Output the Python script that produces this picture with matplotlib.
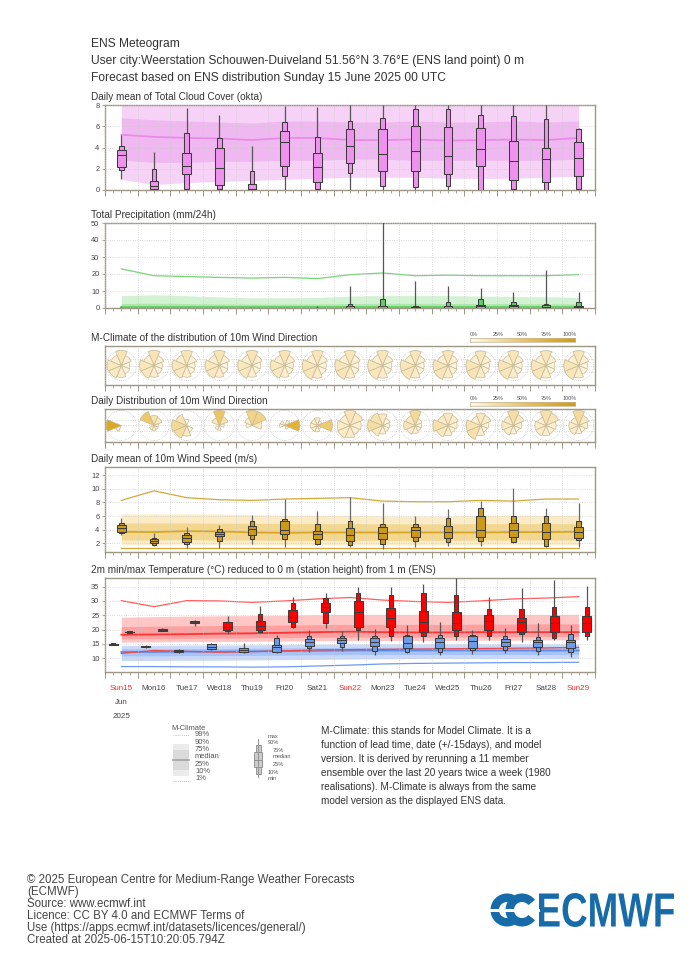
import numpy as np
import matplotlib
matplotlib.use('Agg')
import matplotlib.pyplot as plt
from matplotlib.patches import Rectangle, Wedge, Circle, PathPatch
from matplotlib.colors import LinearSegmentedColormap
from matplotlib.textpath import TextPath
from matplotlib.font_manager import FontProperties
from matplotlib.transforms import Affine2D, blended_transform_factory

plt.rcParams['font.family'] = ['Liberation Sans', 'DejaVu Sans']

# ---------------- data ----------------
day_labels = ['Sun15', 'Mon16', 'Tue17', 'Wed18', 'Thu19', 'Fri20', 'Sat21', 'Sun22',
              'Mon23', 'Tue24', 'Wed25', 'Thu26', 'Fri27', 'Sat28', 'Sun29']
sundays = ['Sun15', 'Sun22', 'Sun29']
days = np.arange(len(day_labels))

# Total cloud cover (okta) - ENS daily boxes
cloud_min = [1.0, 0, 0, 0, 0, 0, 0, 0, 0, 0, 0, 0, 0, 0, 0]
cloud_p10 = [1.9, 0.0, 0.1, 0.1, 0.0, 1.3, 0.1, 1.6, 0.4, 0.3, 0.4, 0.0, 0.1, 0.0, 0.1]
cloud_p25 = [2.15, 0.06, 1.5, 0.47, 0.0, 2.3, 0.73, 2.57, 1.8, 1.8, 1.55, 2.25, 0.95, 0.8, 1.35]
cloud_med = [3.3, 0.38, 2.25, 2.05, 0.1, 4.55, 2.15, 4.15, 3.4, 3.65, 3.2, 3.9, 2.7, 2.9, 3.05]
cloud_p75 = [3.8, 0.88, 3.5, 4.0, 0.55, 5.55, 3.45, 5.7, 5.75, 6.0, 5.9, 5.85, 4.65, 4.0, 4.5]
cloud_p90 = [4.1, 2.0, 5.4, 4.9, 1.8, 6.4, 5.0, 6.5, 6.75, 7.6, 7.6, 7.1, 7.0, 6.65, 5.75]
cloud_max = [5.2, 3.6, 7.7, 7.05, 4.15, 7.9, 7.8, 8.0, 8.0, 8.0, 8.0, 8.0, 8.0, 8.0, 5.8]
# cloud M-climate
clc_p10 = [1.0, 0.5, 0.7, 0.8, 0.9, 1.0, 1.1, 1.2, 1.2, 1.2, 1.1, 1.1, 1.1, 1.2, 1.3]
clc_p25 = [2.8, 2.6, 2.6, 2.7, 2.7, 2.8, 2.8, 2.9, 2.9, 2.8, 2.8, 2.8, 2.8, 2.8, 2.9]
clc_med = [5.2, 5.0, 4.9, 4.85, 4.7, 4.9, 4.9, 4.7, 4.7, 4.75, 4.65, 4.7, 4.75, 4.7, 4.9]
clc_p75 = [6.8, 6.6, 6.5, 6.4, 6.3, 6.5, 6.5, 6.4, 6.4, 6.5, 6.4, 6.4, 6.5, 6.4, 6.5]
clc_p90 = [8.0, 8.0, 8.0, 8.0, 8.0, 8.0, 8.0, 8.0, 8.0, 8.0, 8.0, 8.0, 8.0, 8.0, 8.0]

# Total precipitation (mm/24h)
pr_min = [0, 0, 0, 0, 0, 0, 0, 0, 0, 0, 0, 0, 0, 0, 0]
pr_p10 = [0, 0, 0, 0, 0, 0, 0, 0, 0, 0, 0, 0, 0, 0, 0]
pr_p25 = [0, 0, 0, 0, 0, 0, 0, 0, 0, 0, 0, 0, 0, 0, 0]
pr_med = [0, 0, 0, 0, 0, 0, 0, 0, 0, 0, 0, 1.0, 1.0, 0.6, 0.6]
pr_p75 = [0, 0, 0, 0, 0, 0, 0, 1.0, 1.4, 0.8, 1.0, 2.0, 2.0, 1.6, 1.4]
pr_p90 = [0.1, 0, 0, 0.05, 0, 0, 0.2, 2.5, 5.3, 1.4, 3.5, 5.3, 3.5, 2.5, 3.5]
pr_max = [0.3, 0.2, 0, 0.2, 0, 0, 1.4, 12.7, 52.0, 15.7, 12.7, 11.8, 9.2, 22.2, 9.2]
# precipitation M-climate
prc_p99 = [23.0, 19.0, 18.5, 18.0, 17.6, 18.0, 17.3, 19.6, 20.6, 19.0, 19.3, 19.0, 19.0, 19.0, 19.6]
prc_p90 = [7.3, 7.8, 7.2, 6.5, 6.0, 6.0, 6.2, 7.0, 7.3, 7.3, 7.3, 7.0, 6.8, 6.6, 6.3]
prc_p75 = [2.6, 2.8, 2.6, 2.4, 2.3, 2.3, 2.4, 2.6, 2.7, 2.7, 2.7, 2.6, 2.6, 2.5, 2.5]
prc_med = [0.5, 0.5, 0.5, 0.5, 0.5, 0.5, 0.5, 0.5, 0.5, 0.5, 0.5, 0.5, 0.5, 0.5, 0.5]
prc_p10 = [0, 0, 0, 0, 0, 0, 0, 0, 0, 0, 0, 0, 0, 0, 0]
prc_p25 = [0, 0, 0, 0, 0, 0, 0, 0, 0, 0, 0, 0, 0, 0, 0]

# 10m wind direction frequency (%) -- M-climate, by sector
mc_N = [18, 18, 18, 18, 18, 18, 17, 17, 17, 17, 17, 16.5, 17, 17, 17]
mc_NE = [9, 9, 9, 9.5, 9.5, 9.5, 9, 9, 9, 9, 9, 9, 9, 9, 9]
mc_E = [5.5, 5.5, 5.5, 5.5, 6, 6, 6, 6, 6, 6, 6, 6, 6, 6, 6]
mc_SE = [6.5, 6.5, 6.5, 6.5, 6.5, 7, 7, 7, 7, 7, 7, 7, 7, 7, 7]
mc_S = [11.5, 11, 11, 11, 11, 11, 12, 12, 12, 12, 12, 12, 12, 12, 12]
mc_SW = [14.5, 15, 15, 15, 15, 15, 17, 17, 17, 17.5, 17.5, 18, 17.5, 17.5, 17.5]
mc_W = [16, 16.5, 16.5, 16, 16, 16, 17, 17, 16.5, 17, 17, 17, 17, 16.5, 17]
mc_NW = [10, 10, 10.5, 10.5, 10, 10, 10, 10, 10, 10, 10, 10, 10, 10, 10]
# daily ENS distribution
dd_N = [0, 20, 5, 50, 35, 0, 12, 18, 15, 30, 15, 15, 25, 22, 28]
dd_NE = [0, 15, 0, 20, 35, 10, 5, 15, 7, 7, 12, 12, 15, 18, 15]
dd_E = [0, 4, 0, 5, 15, 70, 45, 10, 5, 5, 8, 6, 8, 10, 10]
dd_SE = [0, 4, 6, 0, 0, 5, 3, 8, 5, 5, 6, 5, 5, 8, 6]
dd_S = [0, 6, 15, 5, 0, 0, 8, 12, 8, 8, 10, 10, 8, 10, 8]
dd_SW = [15, 5, 25, 5, 0, 0, 8, 14, 15, 12, 15, 22, 12, 12, 12]
dd_W = [85, 0, 30, 0, 5, 8, 10, 13, 25, 18, 22, 20, 15, 12, 12]
dd_NW = [0, 46, 19, 15, 10, 7, 9, 10, 20, 15, 12, 10, 12, 8, 9]
sector_compass = [0, 45, 90, 135, 180, 225, 270, 315]

# 10m wind speed (m/s)
ws_min = [3.2, 1.65, 1.3, 1.3, 1.85, 1.4, 1.75, 1.5, 1.15, 1.5, 1.6, 1.65, 2.0, 1.5, 1.5]
ws_p10 = [3.45, 1.75, 1.9, 2.35, 2.6, 2.6, 1.85, 1.75, 1.85, 2.35, 2.15, 2.4, 2.15, 1.65, 2.5]
ws_p25 = [3.7, 2.0, 2.15, 3.05, 3.2, 3.35, 2.65, 2.35, 2.6, 3.0, 2.75, 2.9, 3.0, 2.6, 2.75]
ws_med = [4.2, 2.35, 2.8, 3.35, 4.1, 3.95, 3.3, 3.2, 3.45, 3.95, 3.7, 3.95, 3.95, 3.7, 3.7]
ws_p75 = [4.7, 2.6, 3.2, 3.7, 4.55, 5.25, 3.8, 4.2, 4.45, 4.45, 4.6, 6.0, 5.05, 5.05, 4.45]
ws_p90 = [5.0, 2.8, 3.45, 4.05, 5.3, 5.5, 4.85, 5.3, 4.85, 4.9, 5.65, 7.25, 6.0, 6.05, 5.3]
ws_max = [5.65, 3.45, 4.45, 4.7, 6.15, 8.45, 6.8, 8.75, 7.85, 6.0, 7.0, 8.25, 10.05, 7.25, 7.95]
# wind speed M-climate
wsc_p99 = [8.3, 9.7, 8.7, 8.4, 8.3, 8.5, 8.6, 8.7, 8.2, 8.1, 8.1, 8.3, 8.2, 8.5, 8.5]
wsc_p90 = [6.3, 6.3, 6.3, 6.3, 6.2, 6.1, 6.1, 6.1, 6.0, 6.0, 6.0, 6.1, 6.1, 6.1, 6.1]
wsc_p75 = [5.0, 5.0, 5.0, 4.95, 4.95, 4.9, 4.9, 4.9, 4.85, 4.85, 4.85, 4.9, 4.9, 4.9, 4.9]
wsc_med = [3.7, 3.65, 3.8, 3.75, 3.6, 3.55, 3.6, 3.6, 3.6, 3.6, 3.6, 3.6, 3.65, 3.65, 3.7]
wsc_p25 = [2.5, 2.5, 2.55, 2.5, 2.5, 2.45, 2.45, 2.45, 2.45, 2.45, 2.45, 2.5, 2.5, 2.5, 2.5]
wsc_p10 = [1.85, 1.85, 1.9, 1.85, 1.85, 1.8, 1.8, 1.8, 1.8, 1.8, 1.8, 1.85, 1.85, 1.85, 1.85]
wsc_p01 = [1.3, 1.3, 1.3, 1.3, 1.3, 1.3, 1.3, 1.3, 1.3, 1.3, 1.3, 1.3, 1.3, 1.3, 1.3]

# 2m minimum temperature (night, -6h) and maximum temperature (day, +6h)
tn_min = [14.45, 13.7, 12.0, 12.9, 11.7, 12.0, 12.3, 12.7, 11.2, 12.0, 11.2, 11.5, 12.0, 11.2, 10.3]
tn_p10 = [14.55, 13.8, 12.1, 13.1, 12.1, 12.1, 13.5, 13.8, 12.7, 12.3, 12.3, 12.9, 12.9, 12.7, 12.3]
tn_p25 = [14.7, 13.9, 12.3, 13.2, 12.2, 12.3, 14.3, 15.2, 14.1, 13.5, 13.5, 13.5, 14.1, 13.8, 13.7]
tn_med = [14.9, 14.1, 12.6, 13.8, 12.9, 13.8, 15.8, 16.4, 15.8, 15.2, 15.5, 16.0, 15.8, 15.8, 15.5]
tn_p75 = [15.1, 14.3, 12.9, 14.8, 13.4, 14.7, 16.7, 17.0, 17.2, 17.6, 17.2, 17.6, 16.6, 16.4, 16.4]
tn_p90 = [15.2, 14.4, 13.0, 14.9, 13.5, 17.2, 17.6, 17.8, 17.8, 18.1, 18.1, 18.1, 17.8, 17.3, 18.5]
tn_max = [15.3, 14.5, 13.1, 15.2, 15.2, 18.1, 19.7, 19.5, 20.1, 21.6, 22.8, 19.9, 20.5, 22.2, 21.6]

tx_min = [18.8, 19.4, 21.4, 18.5, 18.7, 20.5, 20.7, 16.4, 16.0, 15.5, 16.4, 16.4, 15.6, 16.4, 16.4]
tx_p10 = [18.9, 19.5, 22.2, 19.5, 19.3, 21.0, 22.4, 19.7, 17.8, 17.6, 17.8, 17.8, 18.4, 17.2, 17.8]
tx_p25 = [19.0, 19.65, 22.4, 19.7, 19.9, 22.6, 26.3, 21.0, 21.0, 19.3, 19.9, 19.9, 19.1, 19.3, 19.0]
tx_med = [19.15, 19.9, 22.7, 21.0, 21.4, 24.5, 28.0, 26.0, 24.0, 22.8, 22.2, 23.0, 22.8, 22.2, 22.2]
tx_p75 = [19.3, 20.15, 23.0, 22.6, 23.0, 26.9, 29.2, 30.1, 27.4, 26.6, 26.3, 25.1, 24.0, 24.8, 24.8]
tx_p90 = [19.4, 20.3, 23.1, 22.7, 25.3, 29.4, 30.9, 32.7, 32.1, 32.7, 32.1, 27.2, 27.2, 27.8, 28.0]
tx_max = [19.5, 20.4, 23.2, 24.8, 28.4, 31.3, 32.7, 35.0, 34.8, 35.9, 37.9, 31.2, 34.4, 37.3, 35.2]

# temperature M-climate (max temperature: red, min temperature: blue)
txc_p99 = [30.1, 28.0, 30.1, 30.0, 29.5, 30.0, 30.7, 31.2, 30.3, 29.8, 29.5, 30.0, 30.7, 31.0, 31.5]
txc_p90 = [24.3, 24.5, 24.7, 24.8, 24.9, 25.0, 25.2, 25.3, 25.3, 25.3, 25.3, 25.3, 25.3, 25.3, 25.3]
txc_p75 = [21.0, 21.2, 21.3, 21.4, 21.5, 21.6, 21.7, 21.8, 21.8, 21.8, 21.8, 21.9, 21.9, 22.0, 22.0]
txc_med = [18.2, 18.3, 18.4, 18.6, 18.7, 18.9, 19.1, 19.3, 19.1, 19.0, 19.0, 19.1, 19.1, 19.1, 19.1]
txc_p25 = [16.8, 16.8, 16.9, 17.0, 17.1, 17.2, 17.3, 17.4, 17.4, 17.4, 17.4, 17.5, 17.5, 17.6, 17.6]
txc_p10 = [15.6, 15.7, 15.8, 15.8, 15.9, 16.0, 16.1, 16.2, 16.2, 16.2, 16.2, 16.3, 16.3, 16.4, 16.4]
txc_p01 = [11.7, 12.7, 12.4, 12.1, 12.3, 12.6, 12.9, 13.0, 13.1, 13.2, 13.3, 13.4, 13.5, 13.6, 13.8]
tnc_p90 = [14.5, 14.5, 14.6, 14.6, 14.7, 14.8, 14.9, 15.0, 15.0, 15.0, 15.0, 15.0, 15.0, 15.0, 15.0]
tnc_p75 = [13.3, 13.3, 13.4, 13.4, 13.5, 13.6, 13.7, 13.8, 13.8, 13.8, 13.8, 13.8, 13.8, 13.8, 13.8]
tnc_med = [12.2, 12.2, 12.3, 12.3, 12.4, 12.5, 12.6, 12.7, 12.7, 12.7, 12.7, 12.7, 12.7, 12.7, 12.7]
tnc_p25 = [10.8, 10.8, 10.9, 10.9, 11.0, 11.1, 11.2, 11.3, 11.3, 11.3, 11.3, 11.3, 11.3, 11.3, 11.3]
tnc_p10 = [9.2, 9.2, 9.3, 9.3, 9.4, 9.5, 9.6, 9.7, 9.8, 9.9, 9.9, 9.9, 9.9, 9.9, 9.9]
tnc_p01 = [7.1, 7.1, 7.0, 7.0, 6.9, 7.0, 7.3, 7.6, 8.0, 8.2, 8.3, 8.4, 8.5, 8.5, 8.6]

# ---------------- figure ----------------
W, H = 700, 966
fig = plt.figure(figsize=(W / 100, H / 100), dpi=100)
fig.patch.set_facecolor('white')

ov = fig.add_axes([0, 0, 1, 1])
ov.set_xlim(0, W)
ov.set_ylim(H, 0)
ov.axis('off')
ov.patch.set_alpha(0)

TXT = '#333333'
SPINE = '#9e9787'
GRID = '#c8c8c8'
X0, X1 = 105, 595


def fax(y0, y1, x0=X0, x1=X1):
    return fig.add_axes([x0 / W, 1 - y1 / H, (x1 - x0) / W, (y1 - y0) / H])


def style(ax, ylim, yticks=None):
    ax.set_xlim(-0.5, 14.5)
    ax.set_ylim(*ylim)
    ax.set_xticks(np.arange(-0.5, 14.6, 1.0))
    ax.set_xticks(np.arange(-0.25, 14.5, 0.25), minor=True)
    ax.tick_params(axis='x', which='major', length=4.3, width=0.7, color=SPINE,
                   labelbottom=False)
    ax.tick_params(axis='x', which='minor', length=1.9, width=0.6, color=SPINE)
    if yticks is not None:
        ax.set_yticks(yticks)
        ax.set_yticklabels([str(v) for v in yticks])
        ax.tick_params(axis='y', length=2.5, width=0.6, color=SPINE, labelsize=5.4,
                       labelcolor='#444444', pad=1.5)
    else:
        ax.set_yticks([])
    for s in ax.spines.values():
        s.set_color(SPINE)
        s.set_linewidth(1.0)
    ax.grid(True, which='major', ls=(0, (1, 2)), lw=0.55, color=GRID)
    ax.set_axisbelow(False)


def title(ax_top, text):
    ov.text(91, ax_top - 3, text, fontsize=7.2, color=TXT, ha='left', va='bottom')


def mclim(ax, xs, p10, p25, med, p75, p90, c_light, c_dark, c_med):
    ax.fill_between(xs, p10, p90, color=c_light, lw=0, zorder=1)
    ax.fill_between(xs, p25, p75, color=c_dark, lw=0, zorder=1.1)
    ax.plot(xs, med, color=c_med, lw=1.3, zorder=1.2)


def boxes(ax, xs, mn, p10, p25, med, p75, p90, mx, fc, ec='#3c3c3c', wl='#555555',
          ww=0.27, wn=0.14):
    for x, a, b, c, d, e, f, g in zip(xs, mn, p10, p25, med, p75, p90, mx):
        ax.plot([x, x], [a, g], color=wl, lw=0.9, zorder=3, solid_capstyle='butt')
        ax.add_patch(Rectangle((x - wn / 2, b), wn, f - b, fc=fc, ec=ec, lw=0.75, zorder=4))
        ax.add_patch(Rectangle((x - ww / 2, c), ww, e - c, fc=fc, ec=ec, lw=0.75, zorder=5))
        ax.plot([x - ww / 2, x + ww / 2], [d, d], color=ec, lw=0.75, zorder=6)


# header
for yy, line in zip([44, 61, 78],
                    ['ENS Meteogram',
                     'User city:Weerstation Schouwen-Duiveland 51.56°N 3.76°E (ENS land point) 0 m',
                     'Forecast based on ENS distribution Sunday 15 June 2025 00 UTC']):
    ov.text(91, yy, line, fontsize=8.65, color=TXT, va='center')

# ---- cloud cover ----
axc = fax(105, 190)
style(axc, (0, 8), [0, 2, 4, 6, 8])
mclim(axc, days, clc_p10, clc_p25, clc_med, clc_p75, clc_p90, '#f7d2f7', '#f0b8f0', '#e88be8')
boxes(axc, days, cloud_min, cloud_p10, cloud_p25, cloud_med, cloud_p75, cloud_p90, cloud_max,
      fc='#ee92ee')
title(105, 'Daily mean of Total Cloud Cover (okta)')

# ---- precipitation ----
axp = fax(223, 308)
style(axp, (0, 50), [0, 10, 20, 30, 40, 50])
mclim(axp, days, prc_p10, prc_p25, prc_med, prc_p75, prc_p90, '#d3f2d3', '#aee7ae', '#5fcf5f')
axp.plot(days, prc_p99, color='#74d674', lw=0.9, zorder=1.2)
boxes(axp, days, pr_min, pr_p10, pr_p25, pr_med, pr_p75, pr_p90, pr_max, fc='#66cc66')
title(223, 'Total Precipitation (mm/24h)')

# ---- wind direction roses ----
cmap = LinearSegmentedColormap.from_list(
    'wd', [(0.0, '#fffbf2'), (0.2, '#f7e2b0'), (0.5, '#ecc561'), (0.75, '#e0ad30'),
           (1.0, '#d49b0c')])
R = 0.46


def rose_panel(ax, freqs):
    for i in days:
        fr = np.array([f[i] for f in freqs], float)
        fmax = fr.max()
        ax.add_patch(Circle((i, 0), R, fill=False, ls=(0, (1, 1.5)), lw=0.5, ec='#bdbdbd',
                            zorder=1))
        for comp, f in zip(sector_compass, fr):
            if f <= 0:
                continue
            r = R * np.sqrt(f / fmax)
            ax.add_patch(Wedge((i, 0), r, 90 - comp - 22.5, 90 - comp + 22.5,
                               fc=cmap(f / 100.0), ec='#c9ba93', lw=0.5, zorder=3))


def rose_axes(y0, y1):
    ax = fax(y0, y1)
    hh = 15.0 * (y1 - y0) / (X1 - X0) / 2
    style(ax, (-hh, hh))
    ax.set_yticks([-hh * 0.35, 0, hh * 0.35])
    ax.tick_params(axis='y', length=0, labelleft=False)
    return ax


def cbar(y):
    cax = fax(y, y + 4, 470, 575)
    cax.imshow(np.linspace(0, 1, 256)[None, :], cmap=cmap, aspect='auto', extent=(0, 1, 0, 1))
    cax.set_xticks([])
    cax.set_yticks([])
    for s in cax.spines.values():
        s.set_color('#bfb69c')
        s.set_linewidth(0.5)
    for k, lab in enumerate(['0%', '25%', '50%', '75%', '100%']):
        ov.text(474 + k * 24.0, y - 4, lab, fontsize=3.9, color='#555555', ha='center',
                va='center')


axm = rose_axes(346, 385)
rose_panel(axm, [mc_N, mc_NE, mc_E, mc_SE, mc_S, mc_SW, mc_W, mc_NW])
title(346, 'M-Climate of the distribution of 10m Wind Direction')
cbar(338)

axd = rose_axes(409, 442)
rose_panel(axd, [dd_N, dd_NE, dd_E, dd_SE, dd_S, dd_SW, dd_W, dd_NW])
title(409, 'Daily Distribution of 10m Wind Direction')
cbar(402)

# ---- wind speed ----
axw = fax(467, 552)
style(axw, (0.73, 13.2), [2, 4, 6, 8, 10, 12])
mclim(axw, days, wsc_p10, wsc_p25, wsc_med, wsc_p75, wsc_p90, '#fbebc6', '#f4d78f', '#d9a624')
axw.plot(days, wsc_p99, color='#d6a838', lw=0.9, zorder=1.2)
axw.plot(days, wsc_p01, color='#d6a838', lw=0.9, zorder=1.2)
boxes(axw, days, ws_min, ws_p10, ws_p25, ws_med, ws_p75, ws_p90, ws_max, fc='#cc9a16',
      wl='#6a6a6a')
title(467, 'Daily mean of 10m Wind Speed (m/s)')

# ---- temperature ----
axt = fax(578, 672)
style(axt, (5.2, 38), [10, 15, 20, 25, 30, 35])
mclim(axt, days, tnc_p10, tnc_p25, tnc_med, tnc_p75, tnc_p90, '#c9d9fb', '#a6c2f6', '#5d8de8')
axt.plot(days, tnc_p01, color='#6d9af0', lw=0.9, zorder=1.2)
mclim(axt, days, txc_p10, txc_p25, txc_med, txc_p75, txc_p90, '#ffc6c6', '#ff9f9f', '#ff3434')
axt.plot(days, txc_p99, color='#ff5c5c', lw=0.9, zorder=1.2)
axt.plot(days, txc_p01, color='#f04848', lw=0.9, zorder=1.2)
boxes(axt, days - 0.25, tn_min, tn_p10, tn_p25, tn_med, tn_p75, tn_p90, tn_max, fc='#6c9cec')
boxes(axt, days + 0.25, tx_min, tx_p10, tx_p25, tx_med, tx_p75, tx_p90, tx_max, fc='#ff0000')
title(578, '2m min/max Temperature (°C) reduced to 0 m (station height) from 1 m (ENS)')

bt = blended_transform_factory(axt.transData, ov.transData)
for x, lab in zip(days, day_labels):
    axt.text(x, 689, lab, transform=bt, fontsize=5.8, ha='center', va='center',
             color='#ff2a2a' if lab in sundays else '#444444', clip_on=False)
axt.text(days[0], 703, 'Jun', transform=bt, fontsize=5.8, ha='center', va='center',
         color='#444444', clip_on=False)
axt.text(days[0], 717, '2025', transform=bt, fontsize=5.8, ha='center', va='center',
         color='#444444', clip_on=False)

# ---- legend ----
LG = '#555555'
ov.text(171, 729, 'M-Climate', fontsize=5.4, color=LG, va='center')
ov.plot([173, 189], [735, 735], ls=(0, (1, 1.5)), color='#aaaaaa', lw=0.6)
ov.add_patch(Rectangle((173, 744), 16, 32, fc='#ebebeb', ec='none'))
ov.add_patch(Rectangle((173, 750), 16, 20, fc='#dadada', ec='none'))
ov.plot([173, 189], [760, 760], color='#a5a5a5', lw=1.2)
ov.plot([173, 189], [781, 781], ls=(0, (1, 1.5)), color='#aaaaaa', lw=0.6)
for yy, lab in zip([735, 742.5, 749.5, 756.5, 764, 771.5, 779],
                   ['99%', '90%', '75%', 'median', '25%', '10%', '1%']):
    ov.text(195, yy, lab, fontsize=5.4, color=LG, va='center')

ov.plot([258, 258], [739, 777], color='#999999', lw=0.8)
ov.add_patch(Rectangle((255.5, 745), 5, 29, fc='#cccccc', ec='#8a8a8a', lw=0.6))
ov.add_patch(Rectangle((254, 752), 8, 15, fc='#cccccc', ec='#8a8a8a', lw=0.6))
ov.plot([254, 262], [759.5, 759.5], color='#8a8a8a', lw=0.6)
for xx, yy, lab in zip([268, 268, 273, 273, 273, 268, 268],
                       [736, 743, 750, 757, 765, 772, 779],
                       ['max', '90%', '75%', 'median', '25%', '10%', 'min']):
    ov.text(xx, yy, lab, fontsize=4.1, color=LG, va='center')

desc = ['M-Climate: this stands for Model Climate. It is a',
        'function of lead time, date (+/-15days), and model',
        'version. It is derived by rerunning a 11 member',
        'ensemble over the last 20 years twice a week (1980',
        'realisations). M-Climate is always from the same',
        'model version as the displayed ENS data.']
for k, line in enumerate(desc):
    ov.text(321, 731 + 14 * k, line, fontsize=7.2, color=TXT, va='center')

# ---- footer ----
foot = ['© 2025 European Centre for Medium-Range Weather Forecasts',
        '(ECMWF)',
        'Source: www.ecmwf.int',
        'Licence: CC BY 4.0 and ECMWF Terms of',
        'Use (https://apps.ecmwf.int/datasets/licences/general/)',
        'Created at 2025-06-15T10:20:05.794Z']
for k, line in enumerate(foot):
    ov.text(27, 880 + 12 * k, line, fontsize=8.3, color='#444444', va='center')

# ---- ECMWF logo ----
BLUE = '#176ba8'
for cx in (507, 522):
    ov.add_patch(Wedge((cx, 910), 16.5, 38, 322, width=8.5, fc=BLUE, ec='none'))
ov.plot([490, 538], [910, 910], color='white', lw=2.2)
tp = TextPath((0, 0), 'ECMWF', size=40, prop=FontProperties(family='Liberation Sans', weight='bold'))
bb = tp.get_extents()
tr = (Affine2D().translate(-bb.x0, -bb.y0)
      .scale(135.0 / bb.width, -34.0 / bb.height)
      .translate(539, 927))
ov.add_patch(PathPatch(tr.transform_path(tp), fc=BLUE, ec='none'))

fig.savefig('out.png', dpi=100, facecolor='white')
